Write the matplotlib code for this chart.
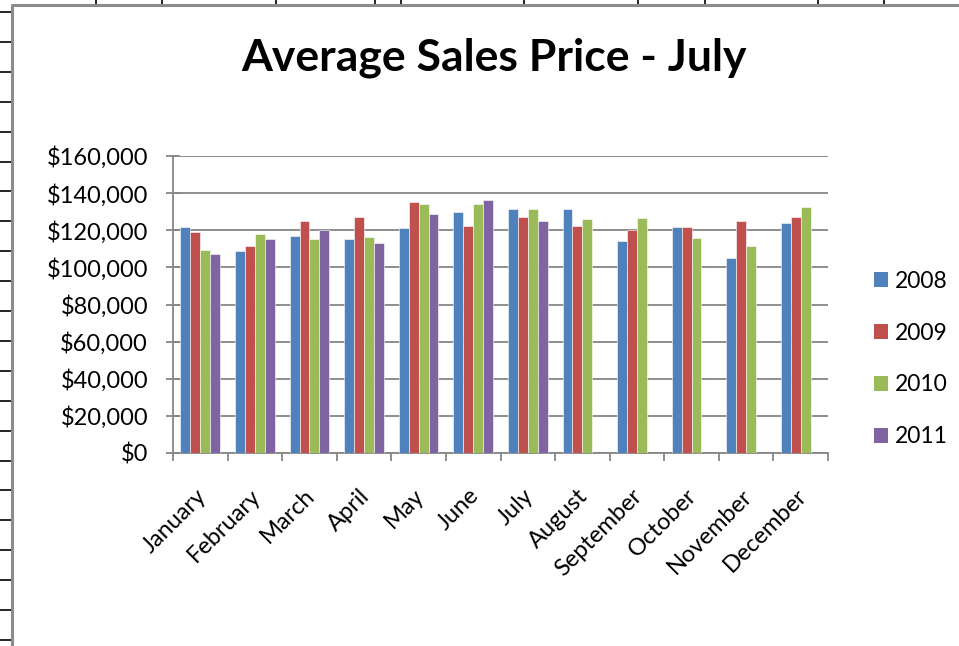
#!/usr/bin/env python3
import matplotlib
matplotlib.use("Agg")
import matplotlib.pyplot as plt
import matplotlib.transforms as mtransforms
from matplotlib.lines import Line2D
from matplotlib.patches import Patch
from matplotlib.ticker import FuncFormatter, MultipleLocator
import numpy as np

# ---------------------------------------------------------
# DATA
# ---------------------------------------------------------
months = ["January", "February", "March", "April", "May", "June",
          "July", "August", "September", "October", "November", "December"]

years = ["2008", "2009", "2010", "2011"]

price_2008 = [121800, 108800, 117100, 115500, 121400, 129700,
              131200, 131400, 114400, 121600, 105200, 123800]
price_2009 = [118900, 111500, 124900, 127000, 135000, 122300,
              127200, 122500, 120000, 122000, 125000, 127200]
price_2010 = [109200, 118000, 115300, 116600, 134400, 133900,
              131200, 126100, 126500, 115700, 111700, 132300]
price_2011 = [107000, 115500, 120400, 113000, 128800, 136200,
              124900, np.nan, np.nan, np.nan, np.nan, np.nan]

colors = ["#4F81BD", "#C0504D", "#9BBB59", "#8064A2"]

# ---------------------------------------------------------
# FIGURE
# ---------------------------------------------------------
plt.rcParams["font.family"] = ["Lato", "DejaVu Sans"]

W, H = 959, 646
fig = plt.figure(figsize=(W / 100, H / 100), dpi=100)

def px(x, y):
    # pixel coords (top-left origin) -> figure fraction
    return x / W, 1 - y / H

# spreadsheet grid behind the chart
for k in range(22):
    y = 12 + 29.9 * k
    if y > H:
        break
    fig.add_artist(Line2D([0, 11 / W], [1 - y / H, 1 - y / H],
                          color="black", lw=1.2))
for x in [96, 162, 276, 375, 401, 524, 638, 705, 818, 884]:
    fig.add_artist(Line2D([x / W, x / W], [1, 1 - 4 / H],
                          color="black", lw=1.2))

# chart area border (only top and left visible)
fig.add_artist(Line2D([12 / W, 12 / W, 1], [0, 1 - 5 / H, 1 - 5 / H],
                      color="#8c8c8c", lw=2.2))

# ---------------------------------------------------------
# PLOT AREA
# ---------------------------------------------------------
left, top = px(173, 156)
right, bottom = px(828, 453)
ax = fig.add_axes([left, bottom, right - left, top - bottom])

x = np.arange(len(months))
bw = 1 / 5.5
series = [price_2008, price_2009, price_2010, price_2011]
for i, (vals, c) in enumerate(zip(series, colors)):
    ax.bar(x + (i - 1.5) * bw, vals, width=bw, color=c,
           edgecolor="white", linewidth=0.4, zorder=3)

ax.set_xlim(-0.5, len(months) - 0.5)
ax.set_ylim(0, 160000)
ax.yaxis.set_major_locator(MultipleLocator(20000))
ax.yaxis.set_major_formatter(FuncFormatter(lambda v, p: f"${v:,.0f}"))
ax.grid(axis="y", color="#868686", linewidth=1.3, zorder=0)
ax.set_axisbelow(True)

for s in ["top", "right"]:
    ax.spines[s].set_visible(False)
for s in ["left", "bottom"]:
    ax.spines[s].set_color("#868686")
    ax.spines[s].set_linewidth(1.3)

ax.tick_params(axis="y", direction="inout", length=10, width=1.3,
               color="#868686", labelsize=17, pad=13)

ax.set_xticks(x)
ax.set_xticks(np.arange(-0.5, len(months)), minor=True)
ax.set_xticklabels(months, rotation=45, ha="right", va="top", fontsize=17)
ax.tick_params(axis="x", which="major", length=0, pad=23)
ax.tick_params(axis="x", which="minor", direction="out", length=5.5,
               width=1.3, color="#868686")

shift = mtransforms.ScaledTranslation(7 / 72, 0, fig.dpi_scale_trans)
for lab in ax.get_xticklabels():
    lab.set_transform(lab.get_transform() + shift)

# ---------------------------------------------------------
# LEGEND
# ---------------------------------------------------------
handles = [Patch(facecolor=c, edgecolor="none") for c in colors]
lx, ly = px(874, 359)
fig.legend(handles, years, loc="center left", bbox_to_anchor=(lx, ly),
           frameon=False, fontsize=16.5, borderpad=0, borderaxespad=0,
           handlelength=0.62, handleheight=0.62, handletextpad=0.3,
           labelspacing=1.35)

# ---------------------------------------------------------
# TITLE
# ---------------------------------------------------------
tx, ty = px(494, 70)
fig.text(tx, ty, "Average Sales Price - July", ha="center",
         va="baseline", fontsize=32, fontweight="bold")

fig.savefig("out.png", dpi=100)
plt.close()
